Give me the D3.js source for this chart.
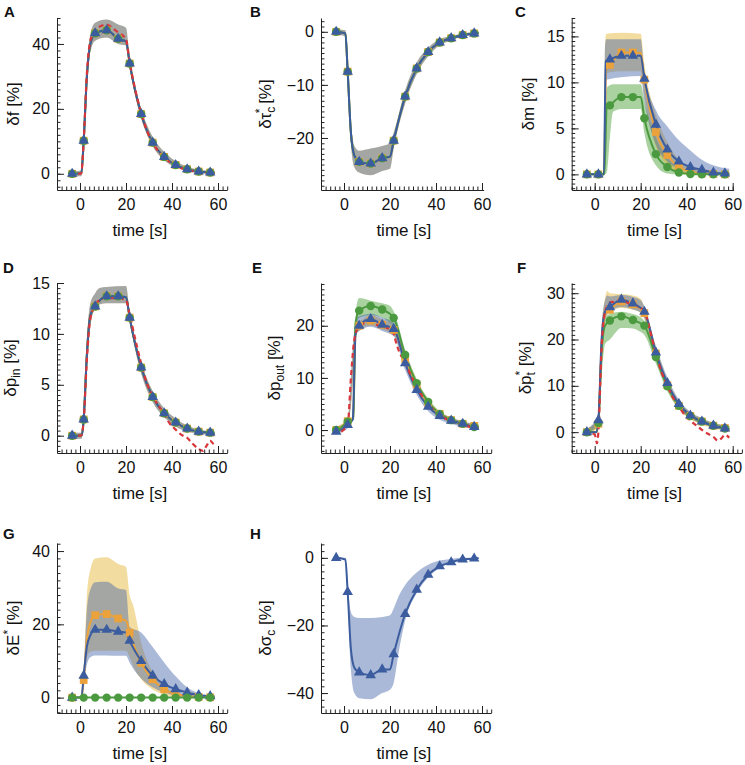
<!DOCTYPE html>
<html>
<head>
<meta charset="utf-8">
<script src="https://cdn.jsdelivr.net/npm/d3@7"></script>
<style>
  body { margin: 0; background: #fff; }
  text { font-family: "Liberation Sans", Arial, Helvetica, sans-serif; }
</style>
</head>
<body>
<svg id="fig" width="745" height="765"></svg>
<script>
// sample times of the markers [s]
const markT = [-3.4, 1.6, 6.6, 11.6, 16.6, 21.6, 26.6, 31.6, 36.6, 41.6, 46.6, 51.6, 56.6];

// A  δf
const aMarks = [0, 10.2, 43.3, 44.2, 41.6, 34.0, 18.4, 9.6, 5.2, 2.7, 1.4, 0.7, 0.4];
const aKnots = [[-4.5, 0], [0.6, 0.2], [3, 30], [4.5, 40], [20, 40.8], [58.5, 0.3]];
const aRed = [[-4.5, 0], [0.5, 0], [1.6, 10], [3, 31], [4.5, 41], [6.6, 44.2], [9, 45.5], [11.6, 46], [14, 45], [16.6, 43.5], [20, 41.5], [21.6, 34.5], [24, 26], [26.6, 18.8], [29, 13.5], [31.6, 9.5], [34, 7], [36.6, 5], [39, 3.6], [41.6, 2.5], [44, 1.7], [46.6, 1.2], [49, 0.8], [51.6, 0.6], [54, 0.4], [56.6, 0.3], [58.5, 0.3]];
const aBand = [[-4.5, -0.8, 0.8], [0.6, -0.8, 0.9], [1.6, 9, 11.5], [3, 28, 33], [4.5, 37.5, 43], [6.6, 41, 46.5], [11.6, 42, 47.5], [16.6, 40, 46], [20, 39.5, 45], [21.6, 32.5, 35.8], [26.6, 17, 20.2], [31.6, 8.5, 11.4], [36.6, 4.2, 6.8], [41.6, 2, 3.9], [46.6, 0.9, 2.2], [51.6, 0.3, 1.3], [58.5, 0, 0.8]];

// B  δτc*
const bMarks = [0, -7.5, -24.5, -24.8, -23.8, -20.5, -12.2, -6.9, -3.8, -2.0, -1.2, -0.6, -0.3];
const bKnots = [[-4.5, 0], [0.6, -0.3], [3, -19], [4.5, -23.3], [20, -23.5], [58.5, -0.2]];
const bBand = [[-4.5, -0.5, 0.5], [0.6, -0.8, 0.3], [1.6, -8.5, -6.5], [3, -21, -17], [4.5, -25.5, -21.5], [6.6, -26.5, -22.4], [11.6, -27, -22], [16.6, -26.2, -21.5], [20, -25.8, -21], [21.6, -22, -19], [26.6, -13.5, -11], [31.6, -8, -5.8], [36.6, -4.6, -3], [41.6, -2.6, -1.4], [46.6, -1.6, -0.8], [51.6, -0.9, -0.3], [58.5, -0.5, 0]];

// C  δm
const cOrangeMarks = [0, 0, 11.9, 13.25, 13.25, 10.3, 4.6, 2.1, 0.8, 0.3, 0.1, 0.05, 0];
const cOrangeKnots = [[-4.5, 0], [4, 0], [5, 11.5], [20, 13.2], [58.5, 0]];
const cBlueMarks = [0, 0, 12.5, 12.9, 12.9, 10.4, 5.4, 2.7, 1.4, 0.8, 0.5, 0.2, 0.1];
const cBlueKnots = [[-4.5, 0], [4, 0], [4.8, 12.3], [20, 12.9], [58.5, 0.1]];
const cGreenMarks = [0, 0, 7.5, 8.4, 8.4, 6.1, 2.2, 0.8, 0.2, 0.05, 0, 0, 0];
const cGreenKnots = [[-4.5, 0], [4.2, 0], [5.2, 7.2], [20, 8.4], [58.5, 0]];
const cYellowBand = [[4, 0, 0], [4.5, 5, 14], [5, 11, 15.3], [11.6, 11.2, 15.4], [20, 11.2, 15.3], [21.6, 8.5, 12], [26.6, 3, 6.5], [31.6, 1, 3.5], [36.6, 0.2, 1.6], [41.6, 0, 0.8], [46.6, 0, 0.4], [58.5, 0, 0.2]];
const cBlueBand = [[4, 0, 0], [4.5, 6, 14], [5, 10.3, 14.7], [20, 10.7, 14.7], [21.6, 8, 11], [26.6, 3.2, 7], [31.6, 1.4, 5.2], [36.6, 0.6, 3.7], [41.6, 0.2, 2.6], [46.6, 0.1, 1.6], [51.6, 0, 1.0], [58.5, 0, 0.6]];
const cGreenBand = [[4.2, 0, 0], [4.6, 0, 8], [5.5, 0.5, 9.5], [6.6, 4, 9.7], [8, 6.8, 9.8], [11.6, 7.1, 9.8], [20, 7.1, 9.8], [21.6, 4.5, 8], [26.6, 1, 4], [31.6, 0.1, 1.8], [36.6, 0, 0.6], [41.6, 0, 0.2], [46.6, 0, 0.1], [58.5, 0, 0]];

// D  δp_in
const dMarks = [0, 1.6, 12.7, 13.7, 13.7, 11.6, 6.7, 3.8, 2.2, 1.3, 0.7, 0.4, 0.3];
const dKnots = [[-4.5, 0], [0.8, 0.05], [3, 8], [4.5, 11.8], [20, 13.6], [58.5, 0.2]];
const dRed = [[-4.5, 0], [0.5, 0], [1.6, 1.5], [3, 7.5], [4.5, 11.5], [6.6, 12.8], [9, 13.4], [11.6, 13.5], [16.6, 13.5], [20, 13.3], [21.6, 11.9], [24, 9.5], [26.6, 7.1], [29, 5.2], [31.6, 3.9], [34, 3], [36.6, 2.1], [39, 1.2], [41.6, 0.6], [44, 0.1], [46.6, -0.2], [49, -0.8], [51.6, -1.3], [53.5, -1.5], [55, -1.0], [56.6, -0.5], [58, -0.8], [59, -0.9]];
const dBand = [[-4.5, -0.3, 0.3], [0.6, -0.3, 0.3], [1.6, 1.2, 2.0], [3, 6.5, 9.5], [4.5, 10.8, 13], [6.6, 12.5, 14], [8.5, 12.9, 14.5], [11.6, 13, 14.6], [20, 13, 14.7], [21.6, 11.1, 12.2], [26.6, 6.1, 7.3], [31.6, 3.3, 4.4], [36.6, 1.8, 2.7], [41.6, 0.9, 1.7], [46.6, 0.4, 1.0], [51.6, 0.2, 0.6], [58.5, 0.1, 0.4]];

// E  δp_out
const eGreenMarks = [0, 1.6, 22.9, 23.8, 23.1, 21.5, 14.4, 9.0, 5.4, 3.1, 1.9, 1.2, 0.6];
const eGreenKnots = [[-4.5, 0], [4, 2.2], [5, 20.5], [58.5, 0.5]];
const eOrangeMarks = [0, 1.7, 20.0, 21.0, 20.2, 19.2, 13.6, 8.7, 5.1, 3.1, 1.9, 1.2, 0.8];
const eOrangeKnots = [[-4.5, 0], [4, 2.3], [5, 18.5], [58.5, 0.7]];
const eBlueMarks = [-0.3, 1.0, 20.0, 21.3, 20.2, 19.4, 12.8, 7.7, 4.5, 2.7, 1.8, 1.2, 0.6];
const eBlueKnots = [[-4.5, 0], [3.8, 2], [5, 18.3], [58.5, 0.5]];
const eRed = [[-4.5, 0], [-2.5, -0.5], [0, 0.1], [1.6, 1], [3, 10], [4, 15.5], [5, 18.5], [6.6, 19.8], [9, 20.5], [11.6, 20.6], [14, 20.2], [16.6, 19.8], [19, 19.5], [21.6, 18.5], [22.5, 17], [24, 15], [26.6, 13], [29, 10.5], [31.6, 8.3], [34, 6.5], [36.6, 5], [39, 3.8], [41.6, 2.9], [44, 2.2], [46.6, 1.7], [49, 1.3], [51.6, 1.0], [54, 0.7], [56.6, 0.4], [58.5, 0.3]];
const eGreenBand = [[4, 2, 2.4], [5.5, 20, 24], [6.6, 21.5, 25.3], [11.6, 22, 24.8], [16.6, 21.6, 24.3], [20, 20.5, 23.8], [21.6, 20, 22.8], [26.6, 13.2, 15.4], [31.6, 8.2, 9.8], [36.6, 4.8, 6], [41.6, 2.6, 3.6], [46.6, 1.5, 2.3], [51.6, 0.8, 1.5], [58.5, 0.2, 0.9]];
const eBlueBand = [[-4.5, -0.8, 0.5], [1.6, 0.3, 1.8], [4, 10, 17], [5.5, 18.5, 21.5], [6.6, 19, 21.8], [11.6, 19.8, 22.3], [16.6, 19, 21.6], [21.6, 18, 20.6], [26.6, 11.5, 14], [31.6, 6.7, 8.8], [36.6, 3.6, 5.4], [41.6, 2, 3.4], [46.6, 1.2, 2.4], [51.6, 0.6, 1.7], [58.5, 0.1, 1.0]];
const eYellowBand = [[-4.5, -0.5, 0.5], [1.6, 1, 2.2], [4, 9, 16], [5.5, 18.5, 21], [6.6, 19, 21], [11.6, 20, 22], [16.6, 19.3, 21.2], [21.6, 18.2, 20.2], [26.6, 12.6, 14.6], [31.6, 7.8, 9.6], [36.6, 4.4, 5.8], [41.6, 2.5, 3.6], [46.6, 1.4, 2.4], [51.6, 0.8, 1.6], [58.5, 0.3, 1.2]];

// F  δp_t*
const fBlueMarks = [0, 2.6, 27.0, 28.6, 27.8, 26.0, 17.2, 10.6, 6.1, 3.6, 2.3, 1.4, 0.8];
const fBlueKnots = [[-4.5, 0], [0.6, 0], [3, 20], [4.5, 26], [20, 26.8], [58.5, 0.6]];
const fOrangeMarks = [0, 1.8, 26.4, 28.2, 27.6, 25.7, 17.0, 10.1, 5.7, 3.5, 2.3, 1.4, 0.9];
const fOrangeKnots = [[-4.5, 0], [0.6, 0], [3, 19], [4.5, 25.5], [20, 26.6], [58.5, 0.7]];
const fGreenMarks = [0, 2.0, 24.1, 25.0, 24.2, 23.0, 16.2, 9.9, 5.7, 3.5, 2.3, 1.4, 0.8];
const fGreenKnots = [[-4.5, 0], [0.6, 0], [3, 17.5], [4.5, 23], [20, 23.5], [58.5, 0.6]];
const fRed = [[-4.5, 0], [0, -0.5], [1, -2.4], [1.6, 0], [3, 18], [4.5, 26], [6.6, 28], [9, 28.2], [11.6, 28.5], [14, 28], [16.6, 27.4], [19, 27], [21.6, 26.2], [24, 22], [26.6, 17], [29, 13], [31.6, 10], [34, 7.5], [36.6, 5.5], [39, 3.8], [41.6, 2.5], [44, 1.5], [46.6, 0.5], [49, -0.3], [51.6, -1.0], [53.5, -1.8], [55, -1.4], [56.6, -0.6], [58.5, -1.2]];
const fYellowBand = [[-4.5, -0.5, 0.5], [1.6, 1, 3], [3, 14, 22], [4.5, 24, 29], [5.5, 25.5, 30.5], [6.6, 26, 30], [11.6, 26.8, 29.8], [16.6, 26.4, 29.5], [20, 25.8, 28.8], [21.6, 24.5, 27], [26.6, 15.8, 18.4], [31.6, 9.2, 11.4], [36.6, 5, 6.8], [41.6, 2.8, 4.3], [46.6, 1.6, 3], [51.6, 0.8, 2], [58.5, 0.2, 1.4]];
const fBlueBand = [[-4.5, -0.5, 0.5], [1.6, 1.8, 3.4], [3, 15, 23], [4.5, 24.5, 28.5], [5.5, 25.5, 29.5], [6.6, 26, 29.3], [11.6, 27, 29.6], [16.6, 26.5, 29.2], [20, 25.8, 28.5], [21.6, 24.6, 27.2], [26.6, 15.8, 18.6], [31.6, 9.4, 11.8], [36.6, 5.2, 7], [41.6, 3, 4.4], [46.6, 1.8, 3], [51.6, 1, 2], [58.5, 0.3, 1.4]];
const fGreenBand = [[-4.5, -0.5, 0.5], [1.6, 1.2, 2.8], [3, 12, 20], [4.5, 19, 25], [6.6, 20, 25.5], [11.6, 22.5, 26], [16.6, 22.4, 25.5], [20, 21.6, 24.8], [21.6, 21, 24], [26.6, 14.8, 17.4], [31.6, 8.8, 10.8], [36.6, 5, 6.5], [41.6, 3, 4.1], [46.6, 1.8, 2.8], [51.6, 1, 1.9], [58.5, 0.3, 1.3]];

// G  δE*
const gOrangeMarks = [0, 4.8, 22.5, 22.8, 21.6, 17.7, 9.5, 5.0, 2.3, 0.9, 0.5, 0.2, 0.1];
const gOrangeKnots = [[-4.5, 0], [0.6, 0], [3, 16], [4.5, 20.5], [20, 21], [58.5, 0]];
const gBlueMarks = [0, 6.0, 18.5, 18.5, 18.0, 15.5, 10.0, 6.0, 3.7, 2.3, 1.4, 0.7, 0.4];
const gBlueKnots = [[-4.5, 0], [0.6, 0], [3, 14], [4.5, 17], [20, 17.8], [58.5, 0.3]];
const gGreenMarks = [0, 0, 0, 0, 0, 0, 0, 0, 0, 0, 0, 0, 0];
const gGreenKnots = [[-4.5, 0], [58.5, 0]];
const gYellowBand = [[0.6, 0, 0], [1.6, 3, 7], [3, 11, 28], [4.5, 12.5, 35], [6.6, 12.8, 38], [11.6, 12.8, 38.3], [16.6, 12.8, 36.5], [20, 12.8, 35.7], [21.6, 11, 28], [23.2, 8.5, 25], [26.6, 5, 15], [31.6, 2.2, 7], [36.6, 0.8, 3.2], [41.6, 0.2, 1.3], [46.6, 0, 0.5], [58.5, 0, 0.1]];
const gBlueBand = [[0.6, 0, 0], [1.6, 4, 8], [3, 9, 24], [4.5, 11, 29.5], [6.6, 11.5, 31.5], [11.6, 11.5, 31.6], [16.6, 11.4, 29.8], [20, 11.4, 29.4], [21.6, 9.5, 19.3], [26.6, 5.2, 17.8], [31.6, 2.8, 13.8], [36.6, 1.4, 9.6], [41.6, 0.6, 5.8], [46.6, 0.2, 2.8], [51.6, 0.1, 1.2], [58.5, 0, 0.3]];

// H  δσc
const hMarks = [0, -10.1, -33.9, -34.7, -33.0, -28.5, -16.6, -9.4, -5.0, -2.5, -1.3, -0.5, -0.2];
const hKnots = [[-4.5, 0], [0.6, -0.5], [3, -27], [4.5, -32.5], [20, -33], [58.5, 0]];
const hBand = [[-4.5, 0, 0], [0.6, -0.5, 0], [1.6, -12, -8], [3, -33, -16], [4.5, -40, -17.5], [6.6, -41.5, -17.8], [11.6, -41.8, -17.8], [16.6, -40, -17.5], [20, -39, -17], [21.6, -37, -15], [24, -27, -11], [26.6, -18.5, -8], [31.6, -10.5, -4.3], [36.6, -5.8, -2], [41.6, -3, -0.8], [46.6, -1.5, -0.3], [51.6, -0.7, 0], [58.5, -0.3, 0]];

// tick labels
const xTicks = [0, 20, 40, 60];
const aTicks = [0, 20, 40], bTicks = [-20, -10, 0], cTicks = [0, 5, 10, 15], dTicks = [0, 5, 10, 15];
const eTicks = [0, 10, 20], fTicks = [0, 10, 20, 30], gTicks = [0, 20, 40], hTicks = [-40, -20, 0];

const col = {
  orange: '#eba23a', blue: '#3b5c9e', green: '#4c9a40', red: '#d8363a',
  bandYellow: '#e4b12c', bandBlue: '#4264a6', bandGreen: '#429b2c'
};

const svg = d3.select('#fig');

const series = function(marks, knots){
  return markT.map((t, i) => [t, marks[i]]).concat(knots).sort((a, b) => a[0] - b[0]);
}

const panels = [
  {letter: 'A', lx: 4, ly: 17, ax: 57, top: 18, bot: 190, ydom: [-5, 48], xmax: 64, ticks: aTicks, minor: 2,
   label: [['δf'], [' [%]']],
   bands: [[aBand, 'bandYellow'], [aBand, 'bandBlue']],
   lines: [[aMarks, aKnots, 'orange'], [aMarks, aKnots, 'green'], [aMarks, aKnots, 'blue']], red: aRed},
  {letter: 'B', lx: 250, ly: 17, ax: 321, top: 18, bot: 190, ydom: [-29.8, 2.6], xmax: 60.7, ticks: bTicks, minor: 1,
   label: [['δτ'], ['c', 'sub'], ['*', 'sup', -6.5], [' [%]']],
   bands: [[bBand, 'bandYellow'], [bBand, 'bandBlue']],
   lines: [[bMarks, bKnots, 'orange'], [bMarks, bKnots, 'green'], [bMarks, bKnots, 'blue']]},
  {letter: 'C', lx: 515, ly: 17, ax: 571.7, top: 18, bot: 190, ydom: [-1.7, 17], xmax: 60.4, ticks: cTicks, minor: 0.5,
   label: [['δm'], [' [%]']],
   bands: [[cGreenBand, 'bandGreen'], [cYellowBand, 'bandYellow'], [cBlueBand, 'bandBlue']],
   lines: [[cOrangeMarks, cOrangeKnots, 'orange'], [cGreenMarks, cGreenKnots, 'green'], [cBlueMarks, cBlueKnots, 'blue']]},
  {letter: 'D', lx: 3, ly: 273, ax: 57, top: 283, bot: 453, ydom: [-1.7, 15], xmax: 64, ticks: dTicks, minor: 0.5,
   label: [['δp'], ['in', 'sub'], [' [%]']],
   bands: [[dBand, 'bandYellow'], [dBand, 'bandBlue']],
   lines: [[dMarks, dKnots, 'orange'], [dMarks, dKnots, 'green'], [dMarks, dKnots, 'blue']], red: dRed},
  {letter: 'E', lx: 252, ly: 273, ax: 321, top: 283, bot: 453, ydom: [-4.4, 28.2], xmax: 64, ticks: eTicks, minor: 1,
   label: [['δp'], ['out', 'sub'], [' [%]']],
   bands: [[eGreenBand, 'bandGreen'], [eYellowBand, 'bandYellow'], [eBlueBand, 'bandBlue']],
   lines: [[eOrangeMarks, eOrangeKnots, 'orange'], [eGreenMarks, eGreenKnots, 'green'], [eBlueMarks, eBlueKnots, 'blue']], red: eRed},
  {letter: 'F', lx: 517, ly: 273, ax: 571.7, top: 283, bot: 453, ydom: [-4.5, 32.2], xmax: 64, ticks: fTicks, minor: 1,
   label: [['δp'], ['t', 'sub'], ['*', 'sup', -3.5], [' [%]']],
   bands: [[fGreenBand, 'bandGreen'], [fYellowBand, 'bandYellow'], [fBlueBand, 'bandBlue']],
   lines: [[fOrangeMarks, fOrangeKnots, 'orange'], [fGreenMarks, fGreenKnots, 'green'], [fBlueMarks, fBlueKnots, 'blue']], red: fRed},
  {letter: 'G', lx: 3, ly: 539, ax: 57, top: 543, bot: 713, ydom: [-4.2, 42.2], xmax: 64, ticks: gTicks, minor: 2,
   label: [['δE'], ['*', 'sup'], [' [%]']],
   bands: [[gYellowBand, 'bandYellow'], [gBlueBand, 'bandBlue']],
   lines: [[gOrangeMarks, gOrangeKnots, 'orange'], [gBlueMarks, gBlueKnots, 'blue'], [gGreenMarks, gGreenKnots, 'green']]},
  {letter: 'H', lx: 250, ly: 539, ax: 321, top: 543, bot: 713, ydom: [-45.9, 4.4], xmax: 64, ticks: hTicks, minor: 2,
   label: [['δσ'], ['c', 'sub'], [' [%]']],
   bands: [[hBand, 'bandBlue']],
   lines: [[hMarks, hKnots, 'blue']]}
];

const symbolOf = {
  orange: d3.symbol().type(d3.symbolSquare).size(60),
  green: d3.symbol().type(d3.symbolCircle).size(56),
  blue: d3.symbol().type(d3.symbolTriangle).size(48)
};

const drawPanel = function(p){
  const x = d3.scaleLinear().domain([-10, p.xmax]).range([p.ax, p.ax + 2.3 * (p.xmax + 10)]);
  const y = d3.scaleLinear().domain(p.ydom).range([p.bot, p.top]);
  const g = svg.append('g');

  // shaded ranges
  const area = d3.area().x(d => x(d[0])).y0(d => y(d[1])).y1(d => y(d[2])).curve(d3.curveMonotoneX);
  g.selectAll('path.band').data(p.bands).enter().append('path')
   .attr('class', 'band')
   .attr('d', d => area(d[0]))
   .attr('fill', d => col[d[1]]).attr('fill-opacity', 0.45);

  // model curves
  const line = d3.line().x(d => x(d[0])).y(d => y(d[1])).curve(d3.curveMonotoneX);
  g.selectAll('path.model').data(p.lines).enter().append('path')
   .attr('class', 'model')
   .attr('d', d => line(series(d[0], d[1])))
   .attr('fill', 'none').attr('stroke', d => col[d[2]]).attr('stroke-width', 2);

  if (p.red) {
    g.append('path').attr('d', line(p.red))
     .attr('fill', 'none').attr('stroke', col.red).attr('stroke-width', 2.2)
     .attr('stroke-dasharray', '5,3.5');
  }

  // markers
  p.lines.forEach(s => {
    g.append('g').selectAll('path').data(s[0]).enter().append('path')
     .attr('d', symbolOf[s[2]])
     .attr('transform', (d, i) => `translate(${x(markT[i])},${y(d)})`)
     .attr('fill', col[s[2]]);
  });

  // axes, ticks pointing inward
  const yMinor = d3.range(Math.ceil(p.ydom[0] / p.minor) * p.minor, p.ydom[1] + 1e-9, p.minor);
  const xMinor = d3.range(-10, p.xmax + 1e-9, 2);

  const ya = g.append('g').attr('transform', `translate(${p.ax},0)`);
  ya.call(d3.axisLeft(y).tickValues(yMinor).tickSize(-3.5).tickSizeOuter(0).tickFormat(''));
  ya.append('g').call(d3.axisLeft(y).tickValues(p.ticks).tickSize(-7).tickPadding(7).tickSizeOuter(0))
    .call(a => a.select('.domain').remove());

  const xa = g.append('g').attr('transform', `translate(0,${p.bot})`);
  xa.call(d3.axisBottom(x).tickValues(xMinor).tickSize(-3.5).tickSizeOuter(0).tickFormat(''));
  xa.append('g').call(d3.axisBottom(x).tickValues(xTicks).tickSize(-7).tickPadding(8.5).tickSizeOuter(0))
    .call(a => a.select('.domain').remove());

  g.selectAll('.tick text').attr('font-size', 16).attr('fill', '#111')
   .attr('font-family', '"Liberation Sans", Arial, sans-serif');
  g.selectAll('.domain, .tick line').attr('stroke', '#222').attr('stroke-width', 1);

  g.append('text').attr('x', x(26)).attr('y', p.bot + 46)
   .attr('text-anchor', 'middle').attr('font-size', 17).attr('fill', '#111')
   .text('time [s]');

  // rotated y label, placed left of the tick labels
  const leftEdge = ya.node().getBBox().x + p.ax;
  const lg = g.append('g');
  const lt = lg.append('text').attr('text-anchor', 'middle').attr('font-size', 17).attr('fill', '#111');
  let cur = 0;
  p.label.forEach(part => {
    const kind = part[1] || '';
    const target = kind === 'sub' ? 4 : kind === 'sup' ? -7 : 0;
    const ts = lt.append('tspan').text(part[0]).attr('dy', target - cur);
    if (kind) ts.attr('font-size', 12);
    if (part[2]) ts.attr('dx', part[2]);
    cur = target;
  });
  const bb = lt.node().getBBox();
  const lx = leftEdge - 9 - (bb.y + bb.height);
  lg.attr('transform', `translate(${lx},${(p.top + p.bot) / 2}) rotate(-90)`);

  svg.append('text').attr('x', p.lx).attr('y', p.ly)
   .attr('font-size', 15).attr('font-weight', 'bold').attr('fill', '#111')
   .text(p.letter);
}

panels.forEach(drawPanel);
</script>
</body>
</html>
